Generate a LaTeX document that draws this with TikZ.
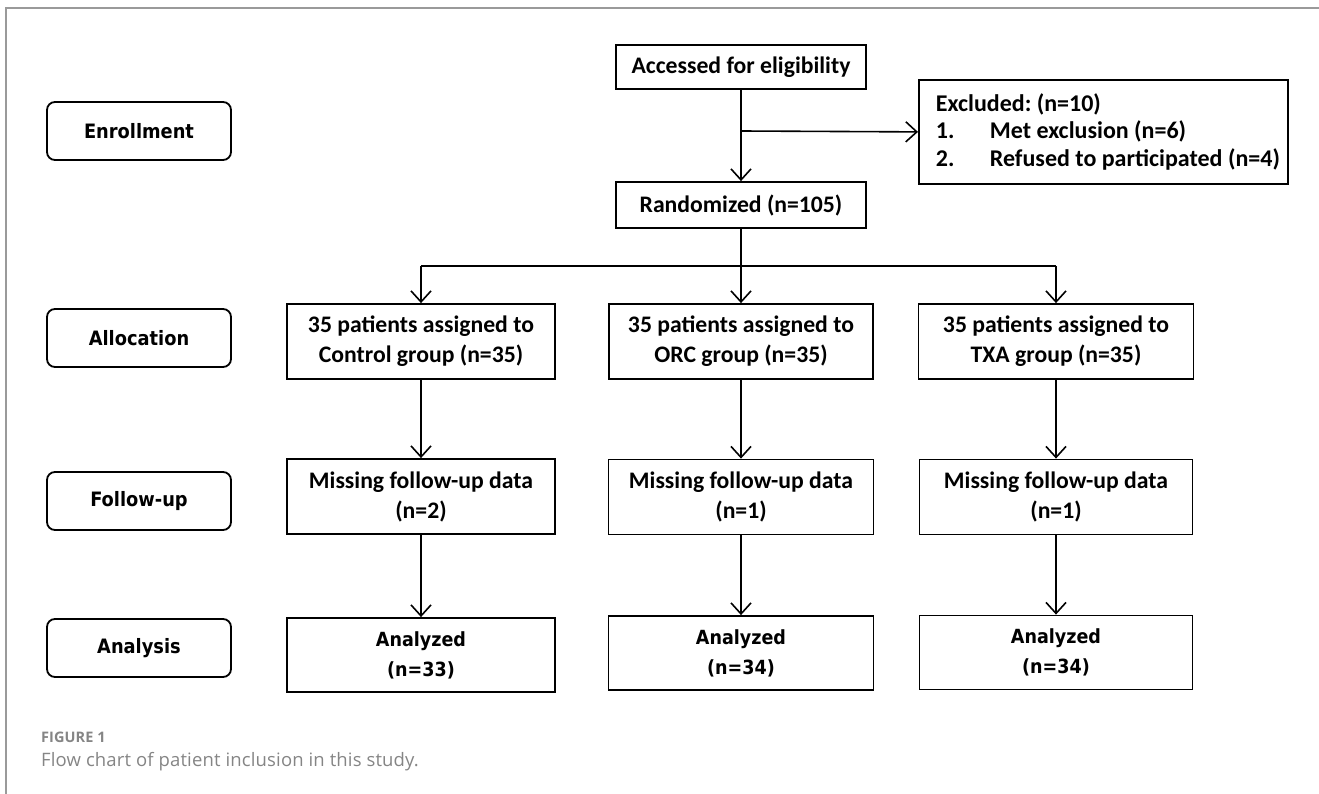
\documentclass[tikz,border=0pt]{standalone}
\usepackage{fontspec}
\setmainfont{Carlito}
\newfontfamily\tahomafont[FakeStretch=0.9]{DejaVu Sans}
\newfontfamily\capfont[LetterSpace=0.8]{Open Sans}
\newfontfamily\figfont[LetterSpace=0.5]{Open Sans}
\usetikzlibrary{arrows.meta}
\definecolor{capgray}{HTML}{858585}
\definecolor{framegray}{HTML}{9A9A9A}
\frenchspacing
\newcommand{\excline}[1]{\hspace*{17pt}\makebox[352pt][l]{#1}}
\begin{document}
\begin{tikzpicture}[x=1pt,y=-1pt,
  box/.style={draw, line width=1.8pt, inner sep=0pt, align=center,
    font=\bfseries\fontsize{23.7}{30}\selectfont},
  tbox/.style={draw, line width=1.8pt, inner sep=0pt, align=center,
    font=\tahomafont\bfseries\fontsize{19.5}{30}\selectfont},
  lab/.style={draw, line width=1.8pt, rounded corners=8pt, minimum width=184pt,
    minimum height=58pt, inner sep=0pt, font=\tahomafont\bfseries\fontsize{19.8}{22}\selectfont},
  arr/.style={-{Straight Barb[length=11pt,width=20pt,line width=1.6pt]}, line width=1.6pt},
  ln/.style={line width=1.6pt},
]
\useasboundingbox (0,0) rectangle (1319,794);
\draw[framegray, line width=1.5pt] (6,794) -- (6,8) -- (1319,8);

% stage labels
\node[lab] (lenr) at (139,131) {Enrollment};
\node[lab] (lall) at (139,338) {Allocation};
\node[lab] (lfol) at (139,501) {Follow-up};
\node[lab] (lana) at (139,648) {Analysis};

% top
\node[box, minimum width=250pt, minimum height=44pt] (acc) at (741,67) {Accessed for eligibility};
\node[box, minimum width=250pt, minimum height=46pt] (rand) at (741,205) {Randomized (n=105)};
\node[draw, line width=1.8pt, anchor=north west, minimum width=369pt, minimum height=104pt,
  inner sep=0pt, align=left,
  font=\bfseries\fontsize{24}{27.5}\selectfont] (exc) at (918,79)
  {\excline{Excluded: (n=10)}\\\excline{\makebox[54pt][l]{1.}Met exclusion (n=6)}\\\excline{\makebox[54pt][l]{2.}Refused to participated (n=4)}};

% allocation
\node[box, minimum width=268pt, minimum height=75pt] (a1) at (421,341.5) {35 patients assigned to\\Control group (n=35)};
\node[box, minimum width=264pt, minimum height=75pt] (a2) at (741,341.5) {35 patients assigned to\\ORC group (n=35)};
\node[box, minimum width=275pt, minimum height=75pt] (a3) at (1056,341.5) {35 patients assigned to\\TXA group (n=35)};

% follow-up
\node[box, minimum width=268pt, minimum height=75pt] (f1) at (421,496.5) {Missing follow-up data\\(n=2)};
\node[box, minimum width=265pt, minimum height=75pt] (f2) at (741,497) {Missing follow-up data\\(n=1)};
\node[box, minimum width=273pt, minimum height=75pt] (f3) at (1056,497) {Missing follow-up data\\(n=1)};

% analysis
\node[tbox, minimum width=268pt, minimum height=74pt] (n1) at (421,655) {Analyzed\\(n=33)};
\node[tbox, minimum width=265pt, minimum height=74pt] (n2) at (741,653) {Analyzed\\(n=34)};
\node[tbox, minimum width=273pt, minimum height=74pt] (n3) at (1056,652.5) {Analyzed\\(n=34)};

% connectors
\draw[arr] (acc.south) -- (rand.north);
\coordinate (ex) at (741,131);
\draw[arr] (ex) -- (exc.west);
\coordinate (brL) at (421,266);
\coordinate (brR) at (1056,266);
\draw[ln] (brL) -- (brR);
\draw[arr] (rand.south) -- (a2.north);
\draw[arr] (brL) -- (a1.north);
\draw[arr] (brR) -- (a3.north);
\draw[arr] (a1.south) -- (f1.north);
\draw[arr] (a2.south) -- (f2.north);
\draw[arr] (a3.south) -- (f3.north);
\draw[arr] (f1.south) -- (n1.north);
\draw[arr] (f2.south) -- (n2.north);
\draw[arr] (f3.south) -- (n3.north);

% caption
\node[anchor=base west, inner sep=0pt, text=capgray, font=\figfont\bfseries\fontsize{14.5}{16}\selectfont] (fig) at (41,742) {FIGURE 1};
\node[anchor=base west, inner sep=0pt, text=capgray, font=\capfont\fontsize{18.5}{20}\selectfont] (cap) at (41,766) {Flow chart of patient inclusion in this study.};
\end{tikzpicture}
\end{document}
